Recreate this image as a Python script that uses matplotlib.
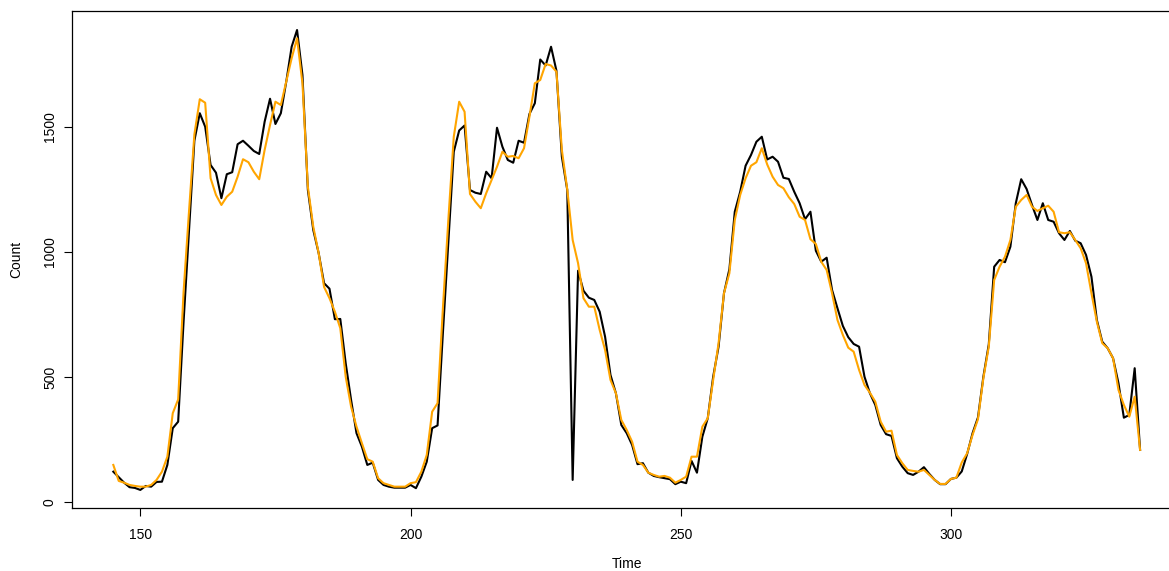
import numpy as np
import matplotlib
matplotlib.use("Agg")
import matplotlib.pyplot as plt

plt.rcParams.update({
    "font.family": "Liberation Sans",
    "font.size": 10,
})

# hourly counts, t = 145 .. 335
t_start = 145
observed = [
    121, 99, 77, 59, 56, 48, 64, 61, 80, 81,
    148, 295, 321, 720, 1080, 1445, 1555, 1501, 1348, 1317,
    1215, 1311, 1319, 1431, 1445, 1425, 1404, 1392, 1521, 1613,
    1512, 1555, 1681, 1821, 1888, 1708, 1248, 1088, 995, 875,
    853, 731, 732, 555, 408, 275, 221, 148, 157, 88,
    68, 61, 57, 57, 57, 68, 55, 101, 161, 295,
    306, 680, 1040, 1401, 1486, 1506, 1248, 1237, 1232, 1321,
    1295, 1497, 1421, 1368, 1357, 1445, 1437, 1552, 1595, 1770,
    1746, 1821, 1725, 1381, 1248, 88, 925, 845, 817, 808,
    761, 661, 508, 435, 308, 275, 228, 151, 155, 117,
    104, 99, 95, 91, 71, 81, 75, 164, 117, 261,
    335, 501, 621, 835, 931, 1161, 1241, 1345, 1388, 1441,
    1461, 1370, 1381, 1361, 1297, 1292, 1241, 1195, 1131, 1161,
    1005, 961, 977, 848, 775, 704, 659, 632, 621, 501,
    435, 388, 308, 271, 264, 175, 141, 115, 108, 121,
    139, 112, 88, 71, 71, 92, 97, 122, 192, 275,
    338, 501, 630, 941, 968, 959, 1021, 1195, 1291, 1252,
    1188, 1128, 1195, 1128, 1121, 1075, 1048, 1084, 1045, 1035,
    988, 901, 728, 641, 615, 575, 475, 337, 348, 535,
    208,
]
fitted = [
    148, 84, 77, 68, 64, 61, 61, 68, 88, 121,
    181, 355, 410, 840, 1160, 1470, 1611, 1597, 1295, 1228,
    1188, 1221, 1241, 1301, 1371, 1359, 1321, 1291, 1408, 1508,
    1601, 1588, 1681, 1775, 1855, 1675, 1261, 1101, 995, 860,
    815, 761, 695, 501, 381, 301, 235, 171, 161, 95,
    75, 68, 61, 61, 61, 75, 79, 121, 188, 361,
    395, 780, 1130, 1461, 1601, 1561, 1232, 1201, 1175, 1235,
    1288, 1341, 1401, 1381, 1384, 1375, 1415, 1541, 1675, 1688,
    1752, 1746, 1721, 1408, 1250, 1048, 955, 815, 781, 781,
    688, 608, 488, 435, 328, 288, 241, 161, 148, 117,
    108, 101, 104, 97, 77, 88, 101, 181, 181, 301,
    335, 488, 635, 835, 915, 1128, 1228, 1295, 1345, 1359,
    1415, 1350, 1301, 1268, 1255, 1219, 1192, 1141, 1128, 1051,
    1032, 961, 928, 835, 728, 668, 617, 601, 528, 468,
    437, 401, 321, 281, 285, 188, 155, 128, 124, 121,
    128, 108, 88, 72, 72, 92, 97, 158, 195, 268,
    331, 495, 621, 888, 941, 981, 1048, 1181, 1208, 1228,
    1181, 1164, 1175, 1185, 1161, 1079, 1075, 1079, 1048, 1015,
    955, 835, 721, 635, 615, 575, 448, 388, 341, 421,
    208,
]
time = np.arange(t_start, t_start + len(observed))

fig = plt.figure(figsize=(11.69, 5.71), dpi=100)
# axes run past the right edge like the cropped original
ax = fig.add_axes([0.0618, 0.1109, 0.9486, 0.8707])

ax.plot(time, observed, color="black", lw=1.5)
ax.plot(time, fitted, color="#FFA500", lw=1.5)

ax.set_xlim(137.4, 342.6)
ax.set_ylim(-23, 1966)
ax.set_xticks([150, 200, 250, 300])
ax.set_yticks([0, 500, 1000, 1500])
ax.tick_params(axis="both", direction="out", length=6, width=0.8, color="black")
ax.tick_params(axis="x", pad=8.5)
ax.tick_params(axis="y", pad=5)
for lab in ax.get_yticklabels():
    lab.set_rotation(90)
    lab.set_va("center")

for sp in ax.spines.values():
    sp.set_linewidth(0.9)

ax.set_xlabel("Time", labelpad=11)
ax.set_ylabel("Count", labelpad=14)

fig.savefig("out.png", dpi=100)
